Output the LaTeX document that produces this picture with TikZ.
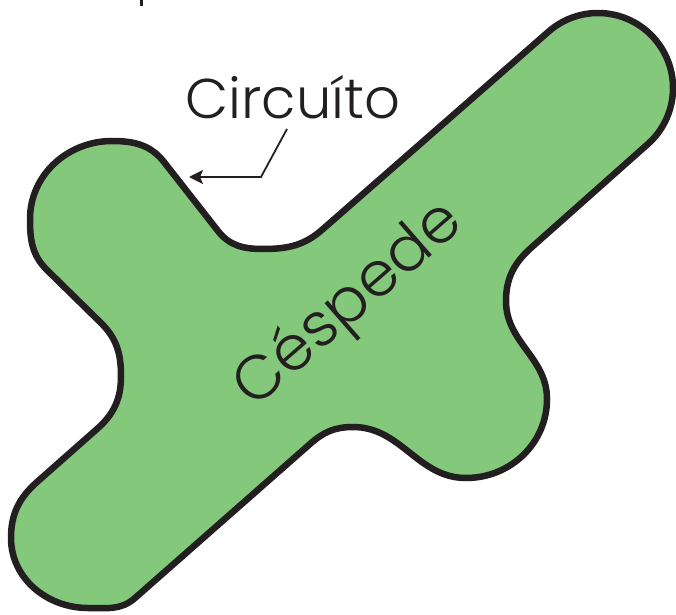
\documentclass[tikz,border=0pt]{standalone}
\usepackage{fontspec}
\usetikzlibrary{arrows.meta}
\IfFontExistsTF{Poppins Light}{\newfontfamily\gothic{Poppins Light}}{\newfontfamily\gothic{Poppins}}
\definecolor{grass}{HTML}{84C87C}
\definecolor{ink}{HTML}{231F20}
\begin{document}
\begin{tikzpicture}[x=1pt,y=1pt,
  outline/.style={fill=grass, draw=ink, line width=6.5pt, line join=round},
  lbl/.style={font=\gothic\fontsize{#1}{#1}\selectfont, text=ink, inner sep=0pt},
  pointer/.style={draw=ink, line width=1.8pt, -{Stealth[length=14pt,width=14pt,inset=3pt]}}]
\useasboundingbox (0,0) rectangle (676,614);
\draw[outline] (548.8,582.6) arc[start angle=131,end angle=-49,radius=75]
 -- (532,367) to[out=221.6,in=90] (506,313) to[out=270,in=90] (547,215)
 to[out=270,in=0] (466,136) to[out=180,in=0] (353,187) to[out=180,in=41.7] (310,170)
 -- (135,16) to[out=221.7,in=0] (88,6) to[out=180,in=270] (11,76) to[out=90,in=221.7] (37,132)
 -- (97,185) to[out=41.5,in=270] (121,238) to[out=90,in=-44.5] (101,291)
 -- (47,344) to[out=135.5,in=270] (30,395) to[out=90,in=180] (112,473) to[out=0,in=128] (164,452)
 -- (218,383) to[out=-52,in=180] (263,365) to[out=0,in=221.7] (323,385) -- cycle;
\node[lbl=56, anchor=base] (circ) at (293,495) {Circuíto};
\node[lbl=62, anchor=base, rotate=41] (cesp) at (360,296) {Céspede};
\coordinate (cstart) at (287,485);
\coordinate (bend) at (261,437);
\coordinate (tip) at (189,437);
\draw[pointer] (cstart) -- (bend) -- (tip);
\draw[ink, line width=3pt] (141,614) -- (141,608);
\end{tikzpicture}
\end{document}
